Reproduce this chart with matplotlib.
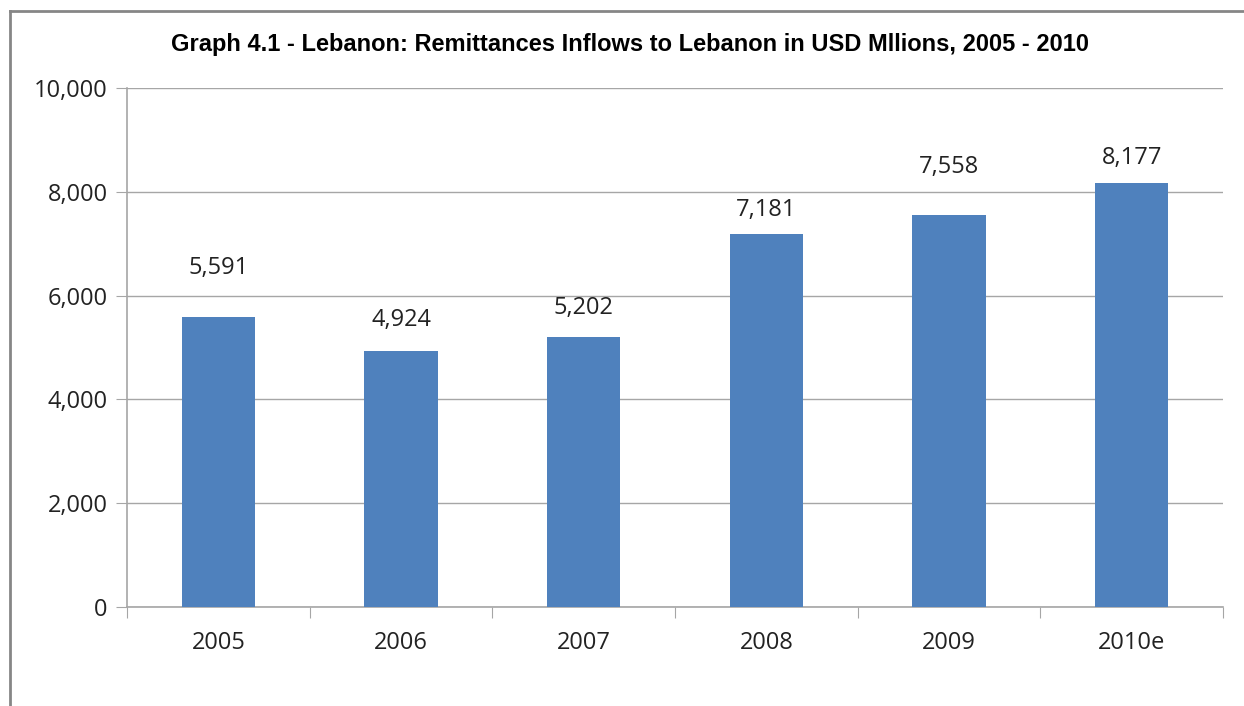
import matplotlib
matplotlib.use("Agg")
import matplotlib.pyplot as plt
from matplotlib.lines import Line2D
from matplotlib.ticker import FuncFormatter

years = ["2005", "2006", "2007", "2008", "2009", "2010e"]
remittances = [5591, 4924, 5202, 7181, 7558, 8177]

# how far each value label sits above its bar, in pixels (placed by hand in the original)
label_gap_px = [51, 34, 32, 27, 50, 27]

W, H = 1244, 706
fig = plt.figure(figsize=(W / 100, H / 100), dpi=100)
ax = fig.add_axes([127 / W, 1 - 607 / H, (1223 - 127) / W, (607 - 88) / H])

x = list(range(len(years)))
ax.bar(x, remittances, width=0.4, color="#4F81BD", zorder=3)
for xi, v, gap in zip(x, remittances, label_gap_px):
    ax.annotate(f"{v:,}", (xi, v), xytext=(0, gap - 8.5), textcoords="offset pixels",
                ha="center", va="baseline", fontsize=17, color="#222222",
                family="Open Sans")

ax.set_xlim(-0.5, len(years) - 0.5)
ax.set_ylim(0, 10000)
ax.set_yticks(range(0, 10001, 2000))
ax.yaxis.set_major_formatter(FuncFormatter(lambda v, p: f"{int(v):,}"))
ax.grid(axis="y", color="#a6a6a6", linewidth=1, zorder=0)

# categories between tick marks
ax.set_xticks([i - 0.5 for i in range(len(years) + 1)])
ax.set_xticklabels([])
ax.set_xticks(x, minor=True)
ax.set_xticklabels(years, minor=True)
ax.tick_params(axis="x", which="minor", length=0, pad=17)
ax.tick_params(axis="x", which="major", length=8, color="#a6a6a6")
ax.tick_params(axis="y", length=8, color="#a6a6a6", pad=6)
for lbl in ax.get_xticklabels(minor=True) + ax.get_yticklabels():
    lbl.set_fontsize(17)
    lbl.set_family("Open Sans")
    lbl.set_color("#222222")

for side in ["top", "right"]:
    ax.spines[side].set_visible(False)
for side in ["left", "bottom"]:
    ax.spines[side].set_color("#a6a6a6")
    ax.spines[side].set_linewidth(1.2)

fig.text(630 / W, 1 - 45 / H,
         "Graph 4.1 - Lebanon: Remittances Inflows to Lebanon in USD Mllions, 2005 - 2010",
         ha="center", va="center", fontsize=17, fontweight="bold",
         family="Liberation Sans")

# chart border (only top and left visible)
fig.add_artist(Line2D([10 / W, 10 / W], [0, 1 - 11 / H], transform=fig.transFigure,
                      color="#868686", linewidth=2))
fig.add_artist(Line2D([10 / W, 1], [1 - 11 / H, 1 - 11 / H], transform=fig.transFigure,
                      color="#868686", linewidth=2))

fig.savefig("out.png", dpi=100)
